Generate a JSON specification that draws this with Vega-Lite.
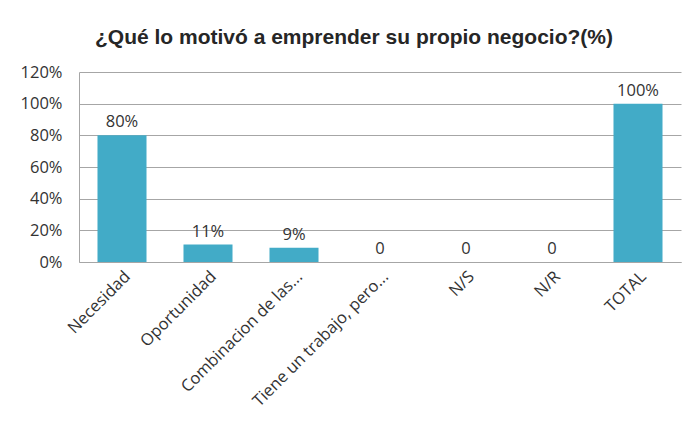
{
  "$schema": "https://vega.github.io/schema/vega-lite/v6.json",
  "width": 602,
  "height": 190,
  "autosize": "none",
  "padding": {"left": 79, "top": 72, "right": 17, "bottom": 161},
  "background": "white",
  "title": {
    "text": "¿Qué lo motivó a emprender su propio negocio?(%)",
    "font": "Liberation Sans",
    "fontSize": 21,
    "fontWeight": "bold",
    "color": "#262626",
    "anchor": "middle",
    "dx": -26,
    "offset": 16
  },
  "data": {
    "values": [
      {"categoria": "Necesidad", "valor": 0.80, "etiqueta": "80%"},
      {"categoria": "Oportunidad", "valor": 0.11, "etiqueta": "11%"},
      {"categoria": "Combinacion de las...", "valor": 0.09, "etiqueta": "9%"},
      {"categoria": "Tiene un trabajo, pero...", "valor": 0, "etiqueta": "0"},
      {"categoria": "N/S", "valor": 0, "etiqueta": "0"},
      {"categoria": "N/R", "valor": 0, "etiqueta": "0"},
      {"categoria": "TOTAL", "valor": 1.0, "etiqueta": "100%"}
    ]
  },
  "encoding": {
    "x": {
      "field": "categoria",
      "type": "nominal",
      "sort": null,
      "scale": {"paddingInner": 0.43, "paddingOuter": 0.215},
      "axis": {
        "title": null,
        "labelAngle": -45,
        "labelFont": "Open Sans",
        "labelFontSize": 16.5,
        "labelColor": "#333333",
        "ticks": false,
        "labelPadding": 6,
        "domainColor": "#A6A6A6",
        "labelLimit": 250
      }
    },
    "y": {
      "field": "valor",
      "type": "quantitative",
      "scale": {"domain": [0, 1.2]},
      "axis": {
        "title": null,
        "format": ".0%",
        "values": [0, 0.2, 0.4, 0.6, 0.8, 1.0, 1.2],
        "labelFont": "Open Sans",
        "labelFontSize": 16.5,
        "labelColor": "#333333",
        "ticks": false,
        "labelPadding": 17,
        "domain": true,
        "domainColor": "#A6A6A6",
        "gridColor": "#A6A6A6",
        "gridWidth": 1
      }
    }
  },
  "layer": [
    {"mark": {"type": "bar", "color": "#42ABC7"}},
    {
      "mark": {"type": "text", "baseline": "bottom", "dy": -5, "font": "Open Sans", "fontSize": 16.5, "color": "#333333"},
      "encoding": {"text": {"field": "etiqueta"}}
    }
  ],
  "config": {"view": {"stroke": null}}
}
